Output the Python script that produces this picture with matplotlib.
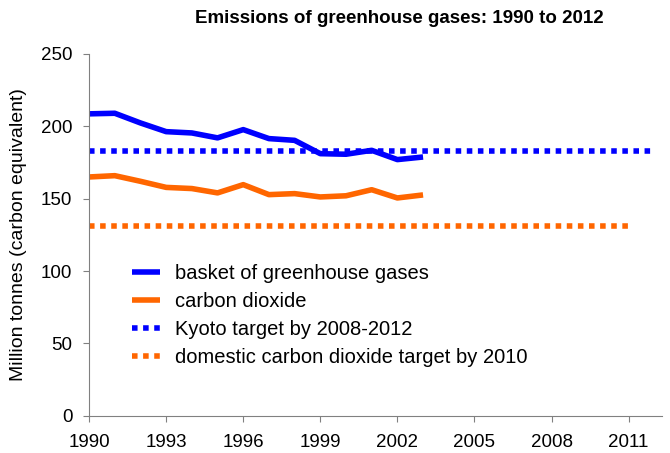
import numpy as np
import matplotlib
matplotlib.use("Agg")
import matplotlib.pyplot as plt

plt.rcParams['font.family'] = ['Liberation Sans', 'DejaVu Sans']

years = list(range(1990, 2004))
basket = [208.6, 209.0, 202.3, 196.3, 195.4, 192.0, 197.7, 191.5, 190.3, 181.1, 180.7, 183.4, 177.0, 178.8]
co2 = [165.0, 165.9, 162.0, 157.8, 157.0, 154.0, 159.7, 152.8, 153.5, 151.2, 152.0, 156.2, 150.5, 152.6]
kyoto_years = [1990, 2012]
kyoto = [182.9, 182.9]
domestic_years = [1990, 2011]
domestic = [130.8, 130.8]
xticks = [1990, 1993, 1996, 1999, 2002, 2005, 2008, 2011]

blue = '#0000ff'
orange = '#ff6600'

fig = plt.figure(figsize=(6.7, 4.53), dpi=100)
ax = fig.add_axes([0.133, 0.082, 0.855, 0.799])

ax.plot(years, basket, color=blue, lw=4, solid_capstyle='butt', label='basket of greenhouse gases')
ax.plot(years, co2, color=orange, lw=4, solid_capstyle='butt', label='carbon dioxide')
ax.plot(kyoto_years, kyoto, color=blue, lw=4, linestyle=(0, (1.0, 1.0)), dash_capstyle='butt',
        label='Kyoto target by 2008-2012')
ax.plot(domestic_years, domestic, color=orange, lw=4, linestyle=(0, (1.0, 1.0)), dash_capstyle='butt',
        label='domestic carbon dioxide target by 2010')

ax.set_xlim(1990, 2012.3)
ax.set_ylim(0, 250)
ax.set_xticks(xticks)
ax.set_yticks(range(0, 251, 50))
ax.tick_params(labelsize=13.5, direction='out', length=4, color='#808080')
ax.tick_params(axis='y', pad=8)
ax.tick_params(axis='x', pad=9)
for s in ['top', 'right']:
    ax.spines[s].set_visible(False)
for s in ['left', 'bottom']:
    ax.spines[s].set_color('#808080')

ax.set_ylabel('Million tonnes (carbon equivalent)', fontsize=14, labelpad=10)
fig.text(0.596, 0.96, 'Emissions of greenhouse gases: 1990 to 2012', ha='center', va='center',
         fontsize=13.5, fontweight='bold')

ax.legend(loc='upper left', bbox_to_anchor=(0.075, 0.42), frameon=False, fontsize=14.5,
          borderpad=0, borderaxespad=0, handlelength=1.4, handletextpad=0.75, labelspacing=0.45)

fig.savefig('out.png', dpi=100)
